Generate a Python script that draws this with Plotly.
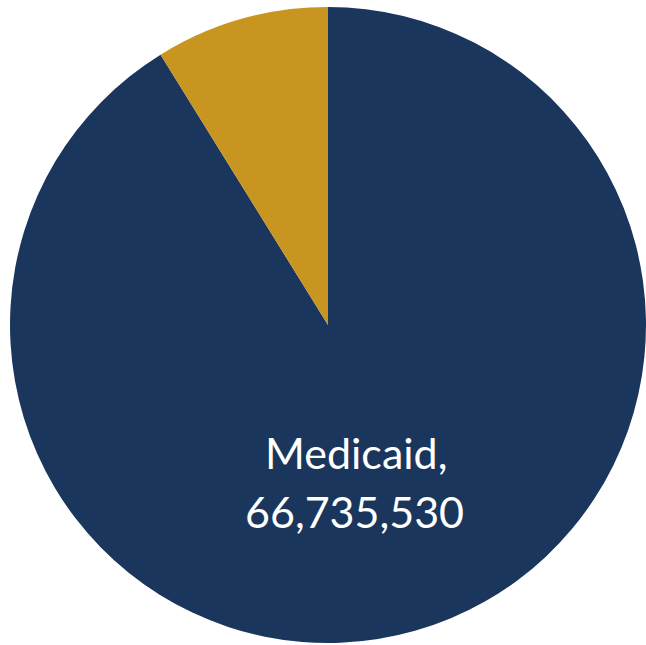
import plotly.graph_objects as go

# Enrollment by program
programs = ["Medicaid", "CHIP"]
enrollment = [66735530, 6460000]
colors = ["#1A365D", "#C89620"]

W, H = 646, 645
cx, cy, r = 328, 325, 318  # pie centre and radius in pixels

fig = go.Figure(
    go.Pie(
        labels=programs,
        values=enrollment,
        sort=False,
        direction="clockwise",
        rotation=0,
        marker=dict(colors=colors, line=dict(width=0)),
        textinfo="none",
        hoverinfo="label+value",
        showlegend=False,
        domain=dict(
            x=[(cx - r) / W, (cx + r) / W],
            y=[(H - cy - r) / H, (H - cy + r) / H],
        ),
    )
)

# Two-line label for the Medicaid slice, each line placed separately
label_lines = [f"{programs[0]},", f"{enrollment[0]:,}"]
line_pos = [(356, 452), (354, 511)]
for txt, (px, py) in zip(label_lines, line_pos):
    fig.add_annotation(
        text=txt,
        x=px / W,
        y=(H - py) / H,
        xref="paper",
        yref="paper",
        showarrow=False,
        font=dict(family="Lato", size=43, color="white"),
        xanchor="center",
        yanchor="middle",
    )

fig.update_layout(
    width=W,
    height=H,
    margin=dict(l=0, r=0, t=0, b=0),
    paper_bgcolor="white",
    plot_bgcolor="white",
)

fig.write_html("out.html")
